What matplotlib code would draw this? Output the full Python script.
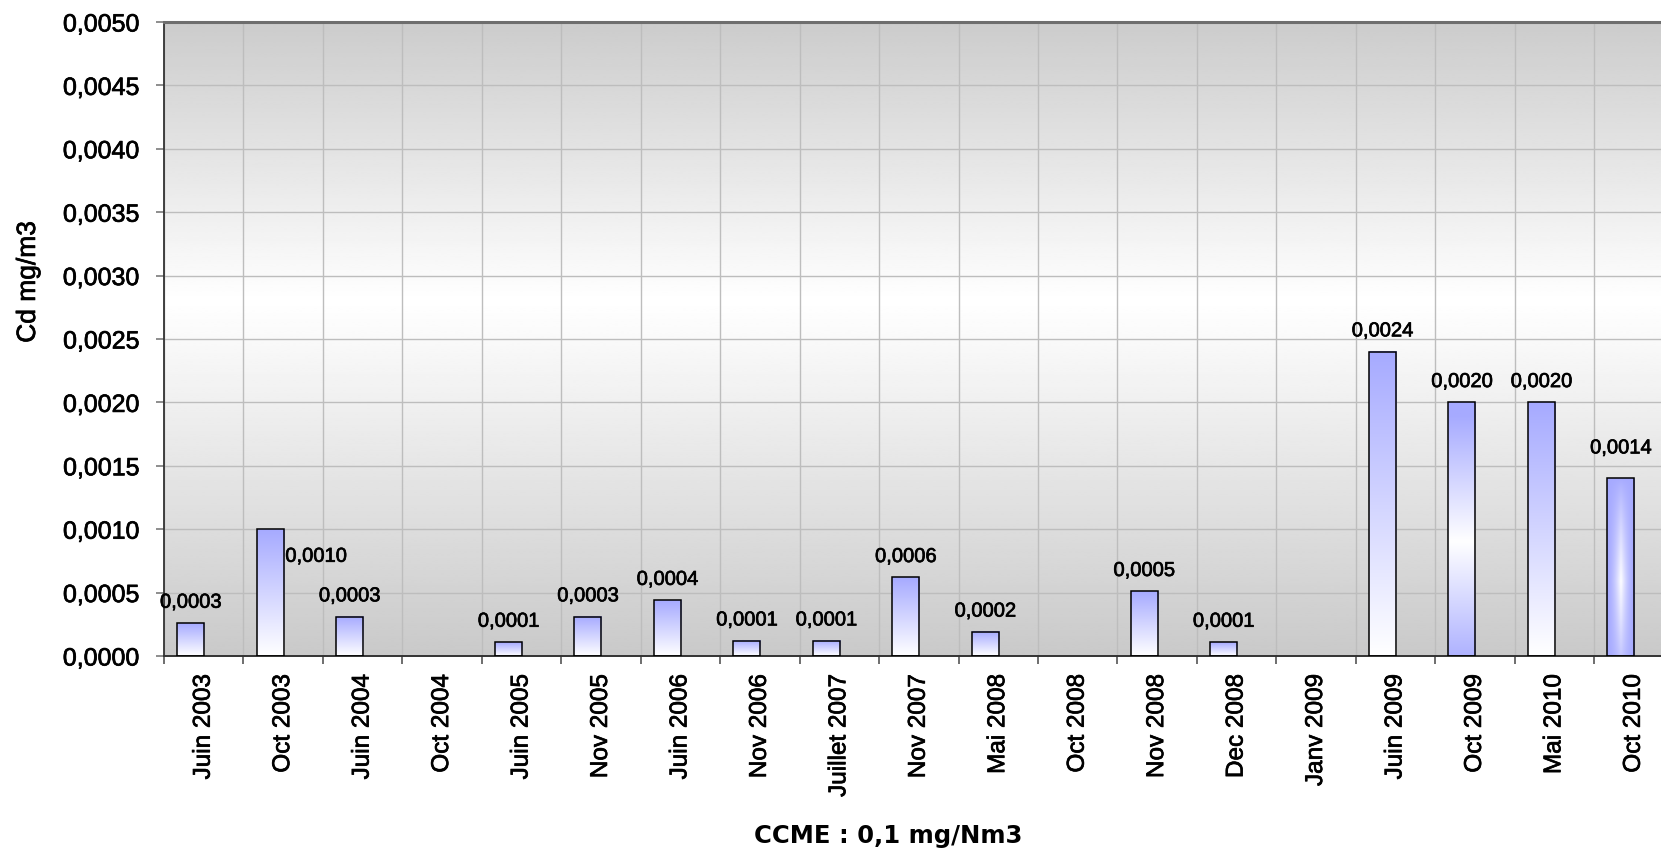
import numpy as np
import matplotlib
matplotlib.use("Agg")
import matplotlib.pyplot as plt
import matplotlib.patheffects as pe
from matplotlib.ticker import FuncFormatter

plt.rcParams["font.family"] = ["Liberation Sans", "DejaVu Sans"]

# Campagnes de mesure et concentrations en cadmium (mg/m3)
campagnes = ["Juin 2003", "Oct 2003", "Juin 2004", "Oct 2004", "Juin 2005",
             "Nov 2005", "Juin 2006", "Nov 2006", "Juillet 2007", "Nov 2007",
             "Mai 2008", "Oct 2008", "Nov 2008", "Dec 2008", "Janv 2009",
             "Juin 2009", "Oct 2009", "Mai 2010", "Oct 2010"]
cd_mg_m3 = [0.00026, 0.0010, 0.00031, np.nan, 0.00011,
            0.00031, 0.00044, 0.00012, 0.00012, 0.00062,
            0.00019, np.nan, 0.00051, 0.00011, np.nan,
            0.0024, 0.0020, 0.0020, 0.0014]

# type de degrade pour chaque barre
degrades = ["haut"] * 16 + ["bande", "haut", "centre"]

# decalage (points) des etiquettes qui ne sont pas posees au-dessus de la barre
decalages = {"Oct 2003": (33, -19.5), "Oct 2010": (0, 22)}

BLEU = np.array([166, 170, 255]) / 255.0
BLANC = np.ones(3)
epais = [pe.withStroke(linewidth=0.5, foreground="black")]


def virgule(v, pos=None):
    return f"{v:.4f}".replace(".", ",")


def degrade(kind, n=200):
    t = np.linspace(0, 1, n)  # 0 = haut de la barre
    if kind == "haut":
        w = t[:, None]
        w = np.repeat(w, 2, axis=1)
    elif kind == "bande":
        w = np.clip(1 - np.abs(t - 0.55) / 0.5, 0, 1)[:, None]
        w = np.repeat(w, 2, axis=1)
    else:
        u = np.linspace(0, 1, 60)
        wx = np.clip(1 - np.abs(2 * u - 1), 0, 1) ** 1.6
        wy = np.clip(1 - np.abs(t - 0.58) / 0.58, 0, 1) ** 0.8
        w = wy[:, None] * wx[None, :]
    return BLEU * (1 - w[..., None]) + BLANC * w[..., None]


fig = plt.figure(figsize=(16.61, 8.52), dpi=100)
ax = fig.add_axes([164 / 1661, 1 - 656 / 852, 19 * 79.45 / 1661, 634 / 852])

n = len(campagnes)
centres = np.arange(n) + 0.5
ymax = 0.005

# fond gris -> blanc -> gris
pos = np.linspace(0, 1, 300)  # 0 = bas
gris = np.interp(pos, [0, 0.56, 1], [0.79, 1.0, 0.80])
fond = np.repeat(gris[::-1][:, None], 2, axis=1)
ax.imshow(fond, cmap="gray", vmin=0, vmax=1, extent=[0, n, 0, ymax],
          aspect="auto", zorder=0, interpolation="bilinear")

barres = ax.bar(centres - 0.165, np.nan_to_num(cd_mg_m3), width=0.34,
                facecolor="none", edgecolor="black", linewidth=1.1, zorder=3)

for barre, val, kind, nom in zip(barres, cd_mg_m3, degrades, campagnes):
    if np.isnan(val):
        barre.set_visible(False)
        continue
    x0, w, h = barre.get_x(), barre.get_width(), barre.get_height()
    ax.imshow(degrade(kind), extent=[x0, x0 + w, 0, h], aspect="auto",
              zorder=2.5, interpolation="bilinear")
    dx, dy = decalages.get(nom, (0, 15))
    ax.annotate(virgule(val), (x0 + w / 2, h), xytext=(dx, dy),
                textcoords="offset points", ha="center", va="center",
                fontsize=14.5, zorder=4, path_effects=epais)

ax.set_xlim(0, n)
ax.set_ylim(0, ymax)

ax.set_yticks(np.arange(0, ymax + 1e-9, 0.0005))
ax.yaxis.set_major_formatter(FuncFormatter(virgule))
ax.set_xticks(np.arange(0, n + 1))
ax.set_xticklabels([])
ax.set_xticks(centres, minor=True)
ax.set_xticklabels(campagnes, minor=True, rotation=90, fontsize=17.5)

ax.tick_params(axis="y", length=6, width=1.2, color="#7a7a7a", pad=11.5,
               labelsize=18)
ax.tick_params(axis="x", which="major", length=6, width=1.2, color="#555555")
ax.tick_params(axis="x", which="minor", length=0, pad=13)
for lab in ax.get_yticklabels() + ax.get_xticklabels(minor=True):
    lab.set_path_effects(epais)

ax.set_axisbelow(True)
ax.grid(True, which="major", color="#bdbdbd", linewidth=1.0)

ax.spines["top"].set_color("#6e6e6e")
ax.spines["top"].set_linewidth(2.2)
ax.spines["left"].set_color("#333333")
ax.spines["left"].set_linewidth(1.3)
ax.spines["bottom"].set_color("#333333")
ax.spines["bottom"].set_linewidth(1.4)
ax.spines["right"].set_visible(False)

fig.text(28 / 1661, 1 - 282 / 852, "Cd mg/m3", rotation=90, fontsize=19,
         ha="center", va="center", path_effects=epais)
fig.text(888 / 1661, 1 - 836 / 852, "CCME : 0,1 mg/Nm3", fontsize=17.5,
         fontweight="bold", ha="center", va="center", family="DejaVu Sans")

fig.savefig("out.png", dpi=100)
